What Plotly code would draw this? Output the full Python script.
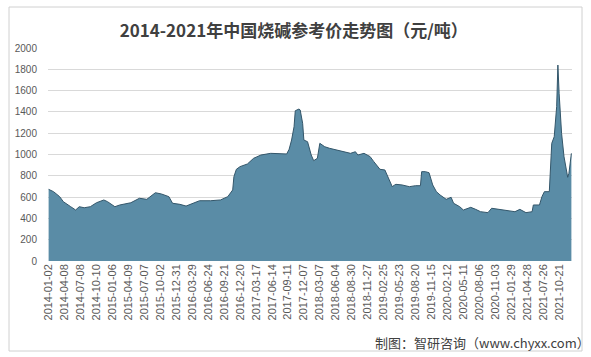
import plotly.graph_objects as go

# category position (week index) and price values (元/吨)
week_idx = [0, 4, 9, 12, 18, 22, 25, 29, 34, 39, 45, 48, 54, 58, 67, 74, 80, 87, 92, 98,
            101, 107, 112, 118, 123, 132, 140, 146, 150, 151, 153, 156, 162, 167, 173, 181, 188, 194, 196, 198,
            200, 201, 204, 205, 207, 208, 211, 214, 216, 219, 221, 225, 229, 235, 240, 246, 250, 252, 257, 262,
            265, 270, 274, 276, 280, 282, 283, 288, 294, 299, 303, 304, 307, 310, 313, 316, 319, 324, 328, 330,
            335, 338, 344, 348, 352, 358, 361, 367, 374, 380, 384, 389, 394, 395, 400, 402, 404, 408, 410, 412,
            414, 415, 416, 418, 420, 423, 424, 426]
price = [673, 651, 604, 557, 510, 479, 510, 500, 510, 547, 573, 557, 510, 526, 547, 589, 579, 641, 629, 604,
         542, 532, 516, 542, 566, 566, 573, 604, 667, 792, 861, 886, 911, 964, 995, 1011, 1005, 1005, 1049, 1136,
         1261, 1411, 1427, 1418, 1293, 1136, 1120, 995, 942, 964, 1105, 1073, 1058, 1042, 1026, 1011, 1026, 995, 1011, 980,
         933, 861, 855, 808, 698, 714, 720, 714, 698, 707, 707, 839, 839, 829, 714, 651, 620, 579, 598, 542,
         510, 479, 504, 485, 463, 454, 495, 485, 472, 463, 485, 454, 463, 526, 526, 604, 651, 651, 1105, 1167,
         1449, 1840, 1575, 1199, 979, 786, 823, 1011]

tick_labels = ["2014-01-02", "2014-04-08", "2014-07-08", "2014-10-10", "2015-01-06", "2015-04-09",
               "2015-07-07", "2015-10-02", "2015-12-31", "2016-03-29", "2016-06-24", "2016-09-21",
               "2016-12-20", "2017-03-17", "2017-06-14", "2017-09-11", "2017-12-07", "2018-03-07",
               "2018-06-04", "2018-08-30", "2018-11-27", "2019-02-25", "2019-05-23", "2019-08-20",
               "2019-11-15", "2020-02-12", "2020-05-11", "2020-08-06", "2020-11-03", "2021-01-29",
               "2021-04-28", "2021-07-26", "2021-10-21"]
tick_step = 13
tick_pos = [i * tick_step for i in range(len(tick_labels))]

title_text = "2014-2021年中国烧碱参考价走势图（元/吨）"
footer_text = "制图：智研咨询（www.chyxx.com）"

W, H = 591, 357
ml, mr, mt, mb = 48, 19, 48, 96

fig = go.Figure()
fig.add_trace(go.Scatter(
    x=week_idx, y=price, mode="lines", fill="tozeroy",
    line=dict(color="#33566A", width=1),
    fillcolor="#5A8CA6", hoverinfo="skip", showlegend=False,
))

fig.update_layout(
    width=W, height=H,
    margin=dict(l=ml, r=mr, t=mt, b=mb, pad=0),
    paper_bgcolor="white", plot_bgcolor="white",
    font=dict(family="Noto Sans CJK SC, Liberation Sans, sans-serif", color="#595959"),
    title=dict(text="<b>" + title_text + "</b>", x=0.497, xanchor="center",
               y=1 - 31 / H, yanchor="middle",
               font=dict(size=17, color="#404040")),
    xaxis=dict(range=[-0.5, 426.5], showgrid=False, zeroline=False, showline=False,
               tickmode="array", tickvals=tick_pos, ticktext=tick_labels,
               tickangle=-90, ticks="", tickfont=dict(size=11, family="Liberation Sans, sans-serif", color="#595959"),
               fixedrange=True),
    yaxis=dict(range=[0, 2000], dtick=200, tick0=0, showgrid=True, gridcolor="#D9D9D9", gridwidth=1,
               zeroline=False, showline=False, ticks="", ticklabelstandoff=10,
               tickfont=dict(size=10, family="Liberation Sans, sans-serif", color="#595959"),
               fixedrange=True),
    shapes=[dict(type="rect", xref="paper", yref="paper",
                 x0=(9 - ml) / (W - ml - mr), x1=(582 - ml) / (W - ml - mr),
                 y0=(H - mb - 351) / (H - mt - mb), y1=(H - mb - 7) / (H - mt - mb),
                 line=dict(color="#D0D0D0", width=1), fillcolor="rgba(0,0,0,0)", layer="below")],
    annotations=[dict(text=footer_text, xref="paper", yref="paper",
                      x=(592 - ml) / (W - ml - mr), xanchor="right",
                      y=(H - mb - 342) / (H - mt - mb), yanchor="middle", showarrow=False,
                      font=dict(size=13, color="#404040"))],
)

fig.write_html("out.html")
